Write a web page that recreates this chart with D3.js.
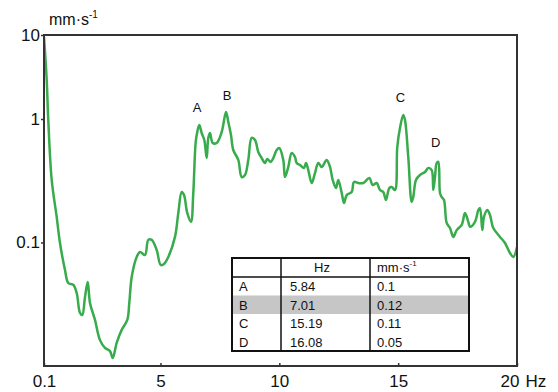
<!DOCTYPE html>
<html>
<head>
<meta charset="utf-8">
<script src="https://cdn.jsdelivr.net/npm/d3@7"></script>
<style>
  body { margin: 0; background: #fff; }
  svg text { font-family: "Liberation Sans", Arial, sans-serif; fill: #111; }
</style>
</head>
<body>
<svg id="viz" width="558" height="392"></svg>
<script>
// spectrum trace
var hz = [0.1, 0.214, 0.28, 0.424, 0.634, 0.773, 0.983, 1.122, 1.333, 1.476, 1.615, 1.711, 1.825, 1.938, 2.035,
  2.245, 2.456, 2.666, 2.877, 2.99, 3.158, 3.369, 3.604, 3.689, 3.79, 4.0, 4.139, 4.349, 4.488, 4.631, 4.841,
  5.01, 5.148, 5.329, 5.611, 5.75, 5.893, 5.99, 6.129, 6.284, 6.381, 6.482, 6.549, 6.634, 6.734, 6.844, 6.945,
  7.012, 7.084, 7.197, 7.365, 7.576, 7.757, 7.854, 7.967, 8.064, 8.274, 8.417, 8.556, 8.695, 8.838, 8.977,
  9.115, 9.259, 9.397, 9.494, 9.637, 9.747, 9.89, 9.999, 10.167, 10.239, 10.378, 10.521, 10.66, 10.731, 10.87,
  11.038, 11.122, 11.219, 11.362, 11.501, 11.64, 11.783, 11.993, 12.132, 12.246, 12.385, 12.481, 12.625, 12.722,
  12.835, 13.045, 13.142, 13.323, 13.533, 13.786, 13.929, 14.097, 14.236, 14.374, 14.488, 14.627, 14.728, 14.867,
  14.963, 15.077, 15.216, 15.287, 15.426, 15.569, 15.637, 15.75, 15.918, 16.129, 16.268, 16.411, 16.478, 16.55,
  16.621, 16.688, 16.76, 16.831, 16.928, 17.042, 17.181, 17.32, 17.463, 17.673, 17.812, 17.951, 18.022, 18.233,
  18.372, 18.443, 18.54, 18.611, 18.75, 18.864, 19.002, 19.284, 19.495, 19.705, 19.844, 20.0];
var amp = [9.47, 2.91, 0.98, 0.321, 0.161, 0.099, 0.0599, 0.047, 0.0453, 0.039, 0.0269, 0.0259, 0.0362, 0.0479, 0.0324,
  0.0236, 0.0162, 0.014, 0.0132, 0.0116, 0.0154, 0.0196, 0.0236, 0.0324, 0.0526, 0.0763, 0.0838, 0.0792, 0.105, 0.105, 0.087,
  0.0658, 0.067, 0.0763, 0.111, 0.173, 0.256, 0.242, 0.173, 0.147, 0.252, 0.651, 0.785, 0.894, 0.77, 0.676, 0.483,
  0.702, 0.77, 0.64, 0.64, 0.785, 1.21, 0.946, 0.742, 0.561, 0.466, 0.339, 0.352, 0.466, 0.702, 0.676,
  0.541, 0.483, 0.44, 0.474, 0.449, 0.483, 0.561, 0.582, 0.466, 0.339, 0.409, 0.531, 0.492, 0.44, 0.424,
  0.401, 0.44, 0.386, 0.303, 0.365, 0.44, 0.409, 0.466, 0.409, 0.321, 0.276, 0.321, 0.252, 0.209,
  0.242, 0.256, 0.309, 0.303, 0.303, 0.333, 0.292, 0.303, 0.266, 0.256, 0.221, 0.276, 0.281, 0.266,
  0.593, 0.846, 1.116, 0.98, 0.492, 0.213, 0.234, 0.321, 0.352, 0.372, 0.401, 0.386, 0.266, 0.339,
  0.44, 0.449, 0.252, 0.234, 0.221, 0.144, 0.131, 0.111, 0.126, 0.139, 0.173, 0.147, 0.134, 0.147,
  0.183, 0.19, 0.126, 0.161, 0.183, 0.167, 0.131, 0.111, 0.099, 0.0822, 0.0763, 0.092];

var xTicks = [0.1, 5, 10, 15, 20];
var yTicks = [10, 1, 0.1];

// peak labels
var peakNames = ["A", "B", "C", "D"];
var peakHz = [6.54, 7.8, 15.1, 16.58];
var peakAmp = [1.21, 1.68, 1.59, 0.593];

// table
var tableHead = ["", "Hz", "mm·s"];
var tableHz = ["5.84", "7.01", "15.19", "16.08"];
var tableAmp = ["0.1", "0.12", "0.11", "0.05"];

var svg = d3.select("#viz");
var mLeft = 44, mRight = 517, mTop = 35, mBottom = 366;

var x = d3.scaleLinear().domain([0.1, 20]).range([mLeft, mRight]);
// the source figure uses uneven decade spacing, so the log scale is piecewise
var y = d3.scaleLog().domain([0.01, 1, 10]).range([mBottom, 119, mTop]);

var line = d3.line()
    .x(function (d) { return x(d[0]); })
    .y(function (d) { return y(d[1]); })
    .curve(d3.curveCatmullRom.alpha(0.5));

var pts = hz.map(function (h, i) { return [h, amp[i]]; });

svg.append("defs").append("clipPath").attr("id", "plotClip")
    .append("rect").attr("x", mLeft).attr("y", mTop - 2).attr("width", mRight - mLeft).attr("height", mBottom - mTop + 2);

svg.append("path")
    .datum(pts)
    .attr("clip-path", "url(#plotClip)")
    .attr("d", line)
    .attr("fill", "none")
    .attr("stroke", "#38ab4c")
    .attr("stroke-width", 2.5)
    .attr("stroke-linejoin", "round");

// frame
svg.append("rect")
    .attr("x", mLeft).attr("y", mTop)
    .attr("width", mRight - mLeft).attr("height", mBottom - mTop)
    .attr("fill", "none").attr("stroke", "#333").attr("stroke-width", 2);

// x axis
var xAxis = d3.axisBottom(x).tickValues(xTicks).tickSize(-3).tickFormat(function (d) { return d === 0.1 ? "0.1" : d; });
var gx = svg.append("g").attr("transform", "translate(0," + mBottom + ")").call(xAxis);
gx.select(".domain").remove();
gx.selectAll("line").attr("stroke", "#333").attr("stroke-width", 1.5);
gx.selectAll("text").attr("font-size", 17).attr("dy", "1.05em").attr("fill", "#111")
    .attr("text-anchor", function (d) { return d === 20 ? "end" : "middle"; })
    .attr("dx", function (d) { return d === 20 ? 2 : 0; });
gx.selectAll(".tick").filter(function (d) { return d === 20; }).append("text")
    .attr("x", 8).attr("y", 3).attr("dy", "1.05em").attr("font-size", 17).attr("fill", "#111")
    .attr("text-anchor", "start").text("Hz");

// y axis
var yAxis = d3.axisLeft(y).tickValues(yTicks).tickSize(3).tickPadding(1)
    .tickFormat(function (d) { return d === 0.1 ? "0.1" : d; });
var gy = svg.append("g").attr("transform", "translate(" + mLeft + ",0)").call(yAxis);
gy.select(".domain").remove();
gy.selectAll("line").attr("stroke", "#333").attr("stroke-width", 1.5);
gy.selectAll("text").attr("font-size", 17).attr("fill", "#111");

// unit label
var unit = svg.append("text").attr("x", 49).attr("y", 25).attr("font-size", 16);
unit.append("tspan").text("mm·s");
unit.append("tspan").attr("font-size", 10).attr("dy", -7).text("-1");

// peak labels
svg.selectAll("text.peak")
    .data(peakNames)
    .enter().append("text")
    .attr("class", "peak")
    .attr("x", function (d, i) { return x(peakHz[i]); })
    .attr("y", function (d, i) { return y(peakAmp[i]); })
    .attr("text-anchor", "middle")
    .attr("font-size", 13)
    .text(function (d) { return d; });

// table
var tx = 232, tw = 237, col1 = 281, col2 = 370, headH = 19, rowH = 18.5, ty = 258;
var th = headH + rowH * peakNames.length;
var tb = svg.append("g");
tb.append("rect").attr("x", tx).attr("y", ty + headH + rowH).attr("width", tw).attr("height", rowH)
    .attr("fill", "#c6c6c6");
tb.append("rect").attr("x", tx).attr("y", ty).attr("width", tw).attr("height", th)
    .attr("fill", "none").attr("stroke", "#111").attr("stroke-width", 2);
tb.append("line").attr("x1", tx).attr("x2", tx + tw).attr("y1", ty + headH).attr("y2", ty + headH)
    .attr("stroke", "#111").attr("stroke-width", 1.5);
[col1, col2].forEach(function (cx) {
    tb.append("line").attr("x1", cx).attr("x2", cx).attr("y1", ty).attr("y2", ty + th)
        .attr("stroke", "#111").attr("stroke-width", 1.5);
});
tb.append("text").attr("x", 314).attr("y", ty + 14).attr("font-size", 13).text(tableHead[1]);
var hu = tb.append("text").attr("x", 377).attr("y", ty + 14).attr("font-size", 13);
hu.append("tspan").text(tableHead[2]);
hu.append("tspan").attr("font-size", 8).attr("dy", -6).text("-1");

peakNames.forEach(function (n, i) {
    var yy = ty + headH + rowH * i + 14;
    tb.append("text").attr("x", 239).attr("y", yy).attr("font-size", 13).text(n);
    tb.append("text").attr("x", 290).attr("y", yy).attr("font-size", 13).text(tableHz[i]);
    tb.append("text").attr("x", 377).attr("y", yy).attr("font-size", 13).text(tableAmp[i]);
});
</script>
</body>
</html>
